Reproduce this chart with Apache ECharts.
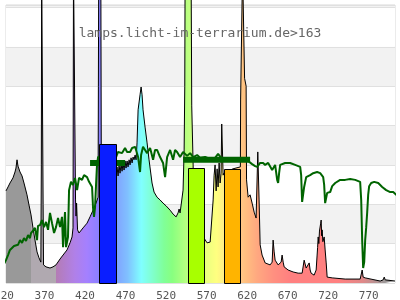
<!DOCTYPE html>
<html><head><meta charset="utf-8">
<script src="https://cdn.jsdelivr.net/npm/echarts@6/dist/echarts.min.js"></script>
<style>html,body{margin:0;padding:0;background:#fff}#c{width:400px;height:300px}</style>
</head><body><div id="c"></div>
<script>
const titleText = 'lamps.licht-im-terrarium.de>163';
const xMin = 320, xMax = 800, xStep = 50;
const yMax = 70.63, yStep = 10;

// lamp spectrum [nm, relative intensity]
const spectrum = [
[320,23.4],[322.5,24.4],[324.9,25.4],[328.6,26.7],[331.1,28.2],[332.3,29.2],[333.6,31.3],[334.8,29.7],
[337.3,28.2],[339.8,27.2],[342.2,25.4],[345.9,22.4],[348.4,19.8],[350.9,17.3],[353.3,14.0],[355.8,10.9],
[358.3,7.9],[360.7,6.4],[363.0,5.3],[363.6,30],[364.0,80],[365.2,80],[365.8,20],[366.3,4.6],[369.4,4.1],
[370.6,3.8],[374.3,3.8],[378.0,4.1],[381.7,4.6],[386.7,6.1],[390.4,7.1],[395.3,8.4],[399.0,10.2],
[401.5,11.7],[402.7,14.0],[403.3,80],[405.2,80],[405.8,21.1],[406.4,17.0],[407.1,20.3],[408.3,13.5],
[410.1,12.7],[415.1,14.0],[420.0,15.2],[423.7,16.8],[427.4,18.5],[431.1,20.3],[433.6,21.8],[434.0,50],
[434.4,80],[437.0,80],[437.6,30],[438.5,27.4],[447.0,27.0],[455.8,27.4],[457.0,29.5],[458.3,27.2],
[459.5,30.0],[460.7,27.9],[462.0,30.2],[463.2,28.4],[464.4,30.5],[465.7,28.7],[466.9,31.0],[468.1,29.2],
[469.4,31.0],[470.6,29.5],[471.9,31.3],[473.1,30.0],[474.3,31.8],[475.6,30.5],[476.8,32.0],[478.0,31.3],
[479.3,32.5],[480.5,31.3],[481.7,35.6],[483.0,44.0],[485.4,47.8],[486.7,49.8],[487.9,47.8],[489.1,44.0],
[491.6,39.6],[494.1,35.6],[496.5,31.3],[500.2,25.4],[502.7,23.1],[506.4,21.8],[510.1,21.1],[513.8,20.3],
[517.5,19.6],[522.5,18.5],[526.2,17.5],[529.9,16.8],[532.3,17.8],[533.6,18.8],[534.8,17.8],[536.0,18.0],
[538.5,23.6],[539.8,33.8],[540.6,50],[541.0,80],[548.4,80],[549.2,45],[550.9,30],[551.5,20],[556.0,14.0],
[564.4,11.4],[568.1,10.2],[571.9,10.4],[574.3,10.9],[575.6,21.1],[576.8,27.4],[578.0,30.0],[579.3,23.4],
[580.5,29.0],[581.7,24.4],[583.0,30.5],[584.2,25.4],[585.4,27.9],[586.2,40.4],[587.3,40.4],[587.9,27.4],
[589.1,28.0],[600.0,29.0],[609.2,29.5],[609.5,46.5],[611.6,47.0],[611.9,80],[614.1,80],[614.4,52],
[616.3,50],[616.8,26.2],[618.8,21.8],[621.2,22.4],[623.7,20.3],[626.2,18.0],[628.6,16.5],[629.9,16.0],
[630.7,33.3],[631.4,33.3],[632.3,21.1],[633.6,9.7],[636.0,7.1],[639.8,5.1],[645.9,4.6],[648.4,5.3],
[649.6,10.9],[650.9,7.9],[652.1,5.8],[655.8,4.6],[659.5,5.3],[660.7,7.1],[662.0,5.3],[663.2,4.1],
[668.1,3.3],[674.3,2.8],[680.5,2.5],[685.4,2.5],[687.9,5.8],[690.4,3.8],[692.8,3.8],[694.1,5.1],
[695.3,3.3],[696.5,2.5],[700.2,2.0],[702.7,3.3],[703.9,7.1],[704.5,9.0],[705.2,11.7],[706.0,10.0],
[706.8,13.2],[707.7,12.7],[708.3,15.2],[708.9,16.0],[709.5,12.0],[710.1,13.5],[711.0,10.5],[712.6,11.7],
[713.8,8.4],[715.1,5.1],[716.3,1.5],[722.5,1.3],[738.5,1.0],[757.0,1.0],[758.3,1.3],[759.5,3.3],
[760.7,1.5],[763.2,1.3],[781.7,0.5],[785.4,0.8],[786.7,1.5],[787.9,0.8],[800,0.5]
];

// transmission curve [nm, %]
const transmission = [
[313.8,2.8],[316.3,4.3],[320,5.8],[322.5,7.1],[324.9,8.4],[327.4,8.9],[329.9,9.4],[332.3,9.9],[334.8,9.7],
[337.3,10.9],[339.8,10.2],[342.2,11.4],[344.7,10.7],[347.2,12.2],[349.6,11.4],[350.9,12.7],[353.3,12.7],
[355.8,14.0],[358.3,10.9],[359.5,14.5],[362.0,14.7],[364.4,16.0],[366.9,14.2],[369.4,15.5],[371.9,13.5],
[374.3,17.8],[376.8,15.2],[379.3,12.7],[381.7,14.2],[384.2,16.5],[386.7,14.2],[389.1,16.8],[390.4,9.1],
[392.8,18.0],[394.1,9.1],[396.5,11.7],[397.8,23.6],[400.2,25.7],[402.7,24.9],[405.2,26.7],[407.7,23.6],
[410.1,26.7],[413.8,26.2],[416.3,27.4],[420.0,26.9],[422.5,25.7],[426.2,24.4],[427.4,19.1],[428.6,16.8],
[429.9,19.3],[431.1,24.9],[432.3,30.0],[433.6,32.0],[445.9,33.3],[455.8,32.0],[458.3,33.3],[460.7,33.8],
[463.2,33.0],[466.9,34.3],[469.4,33.3],[473.1,33.3],[475.6,34.3],[479.3,34.6],[483.0,32.0],[485.4,28.2],
[486.7,32.5],[489.1,34.6],[491.6,33.8],[494.1,33.0],[497.8,34.3],[501.5,31.3],[503.9,33.8],[506.4,33.8],
[510.1,32.0],[513.8,30.5],[516.3,26.9],[518.8,32.0],[522.5,33.8],[526.2,31.3],[528.6,33.8],[531.1,33.3],
[534.8,32.0],[538.5,33.3],[543.5,32.3],[547.2,33.0],[550.9,32.0],[555.8,32.5],[559.5,31.8],[565.7,32.0],
[571.9,31.5],[578.0,31.8],[581.7,32.8],[586.7,31.5],[594.1,31.3],[602.8,31.5],[611.4,31.3],[618.8,31.0],
[623.7,30.2],[627.4,29.7],[629.9,29.5],[633.6,30.5],[637.3,30.5],[639.8,30.0],[643.5,30.5],[645.9,30.5],
[648.4,28.7],[652.1,30.0],[654.6,26.2],[655.8,25.4],[657.0,27.9],[658.3,30.0],[664.4,30.5],[670.6,30.5],
[676.8,30.0],[683.0,29.5],[684.2,27.4],[685.4,20.6],[687.9,24.4],[690.4,26.9],[695.3,27.4],[699.0,27.9],
[703.9,28.2],[707.7,27.9],[711.4,26.9],[712.6,24.9],[713.8,20.3],[716.3,22.9],[720.0,23.1],[722.5,24.6],
[723.7,24.1],[726.2,25.4],[728.6,25.7],[732.3,26.2],[738.5,26.2],[744.7,26.4],[750.9,26.2],[757.0,25.7],
[758.3,21.1],[759.5,10.9],[760.7,3.8],[762.0,5.3],[763.2,10.9],[764.4,14.0],[765.7,18.0],[766.9,22.4],
[768.1,24.6],[770.6,25.4],[774.3,25.7],[779.3,25.4],[784.2,24.4],[789.1,23.6],[794.1,23.1],[797.8,23.1],
[801.5,22.4],[805.2,22.6]
];

// mean transmission bands [nm, %]
const bandBlue = [[423.7,30.5],[467.0,30.5]];
const bandYellow = [[538.5,31.3],[621.2,31.3]];

// colour bins [start nm, end nm, value]
const bins = [[434.8,455.8,35.3],[544.7,564.4,29.2],[589.1,608.9,29.0]];
const binColors = ['#0a1eff','#a8ff00','#ffb400'];

// fill colours along the wavelength axis [nm, colour]
const spectrumColors = [
[320,'#999999'],[350.9,'#999999'],[350.9,'#b0a9b0'],[381.7,'#b0a9b0'],[381.7,'#b47cb4'],
[405,'#b080e8'],[420,'#a480ff'],[436,'#8880ff'],[455,'#80a0ff'],[470,'#80c0ff'],[487,'#80ffff'],
[500,'#80ffd0'],[515,'#80ff98'],[525,'#88ff80'],[546,'#c0ff80'],[565,'#e8ff80'],[580,'#ffff80'],
[600,'#ffd890'],[615,'#ffc080'],[630,'#ffa880'],[650,'#ff9080'],[670,'#ff8080'],[730,'#ff8080'],
[760,'#e08888'],[785,'#a09898'],[800,'#999999']
];

const chart = echarts.init(document.getElementById('c'), null, {renderer:'canvas'});
const grad = new echarts.graphic.LinearGradient(0,0,1,0,
  spectrumColors.map(c => ({offset:(c[0]-xMin)/(xMax-xMin), color:c[1]})));

chart.setOption({
  animation:false,
  title:{text:titleText,left:'center',top:22,
    textStyle:{fontFamily:'DejaVu Sans Mono',fontSize:13,fontWeight:'normal',color:'#666'}},
  grid:{left:6,right:5,top:5,bottom:17,show:true,borderColor:'#d8d8d8',borderWidth:1,
    backgroundColor:'transparent',containLabel:false,outerBoundsMode:'none'},
  xAxis:{type:'value',min:xMin,max:xMax,interval:xStep,
    axisLine:{show:false},axisTick:{show:false},splitLine:{show:false},
    axisLabel:{showMaxLabel:false,showMinLabel:true,hideOverlap:false,margin:8,padding:[0,4,0,0],
      fontFamily:'DejaVu Sans Mono',fontSize:11,color:'#555'}},
  yAxis:{type:'value',min:0,max:yMax,interval:yStep,
    axisLine:{show:false},axisTick:{show:false},axisLabel:{show:false},
    splitLine:{show:true,lineStyle:{color:'#e0e0e0',width:1}},
    splitArea:{show:true,areaStyle:{color:['#ffffff','#f2f2f2']}}},
  series:[
    {type:'line',data:spectrum,symbol:'none',clip:false,z:2,silent:true,
      lineStyle:{color:'#000',width:1},areaStyle:{color:grad,opacity:1}},
    {type:'line',data:transmission,symbol:'none',clip:false,z:3,silent:true,
      lineStyle:{color:'#006400',width:2}},
    {type:'line',data:bandBlue,symbol:'none',z:3,silent:true,lineStyle:{color:'#006400',width:6,cap:'butt'}},
    {type:'line',data:bandYellow,symbol:'none',z:3,silent:true,lineStyle:{color:'#006400',width:6,cap:'butt'}},
    {type:'custom',data:bins,z:4,silent:true,encode:{x:[0,1],y:2},
      renderItem:function(params,api){
        const s = api.coord([api.value(0),api.value(2)]);
        const e = api.coord([api.value(1),0]);
        return {type:'rect',shape:{x:Math.round(s[0])+0.5,y:Math.round(s[1])+0.5,
          width:Math.round(e[0]-s[0]),height:Math.round(e[1]-s[1])},
          style:{fill:binColors[params.dataIndex],stroke:'#000',lineWidth:1}};
      }}
  ]
});
</script></body></html>
